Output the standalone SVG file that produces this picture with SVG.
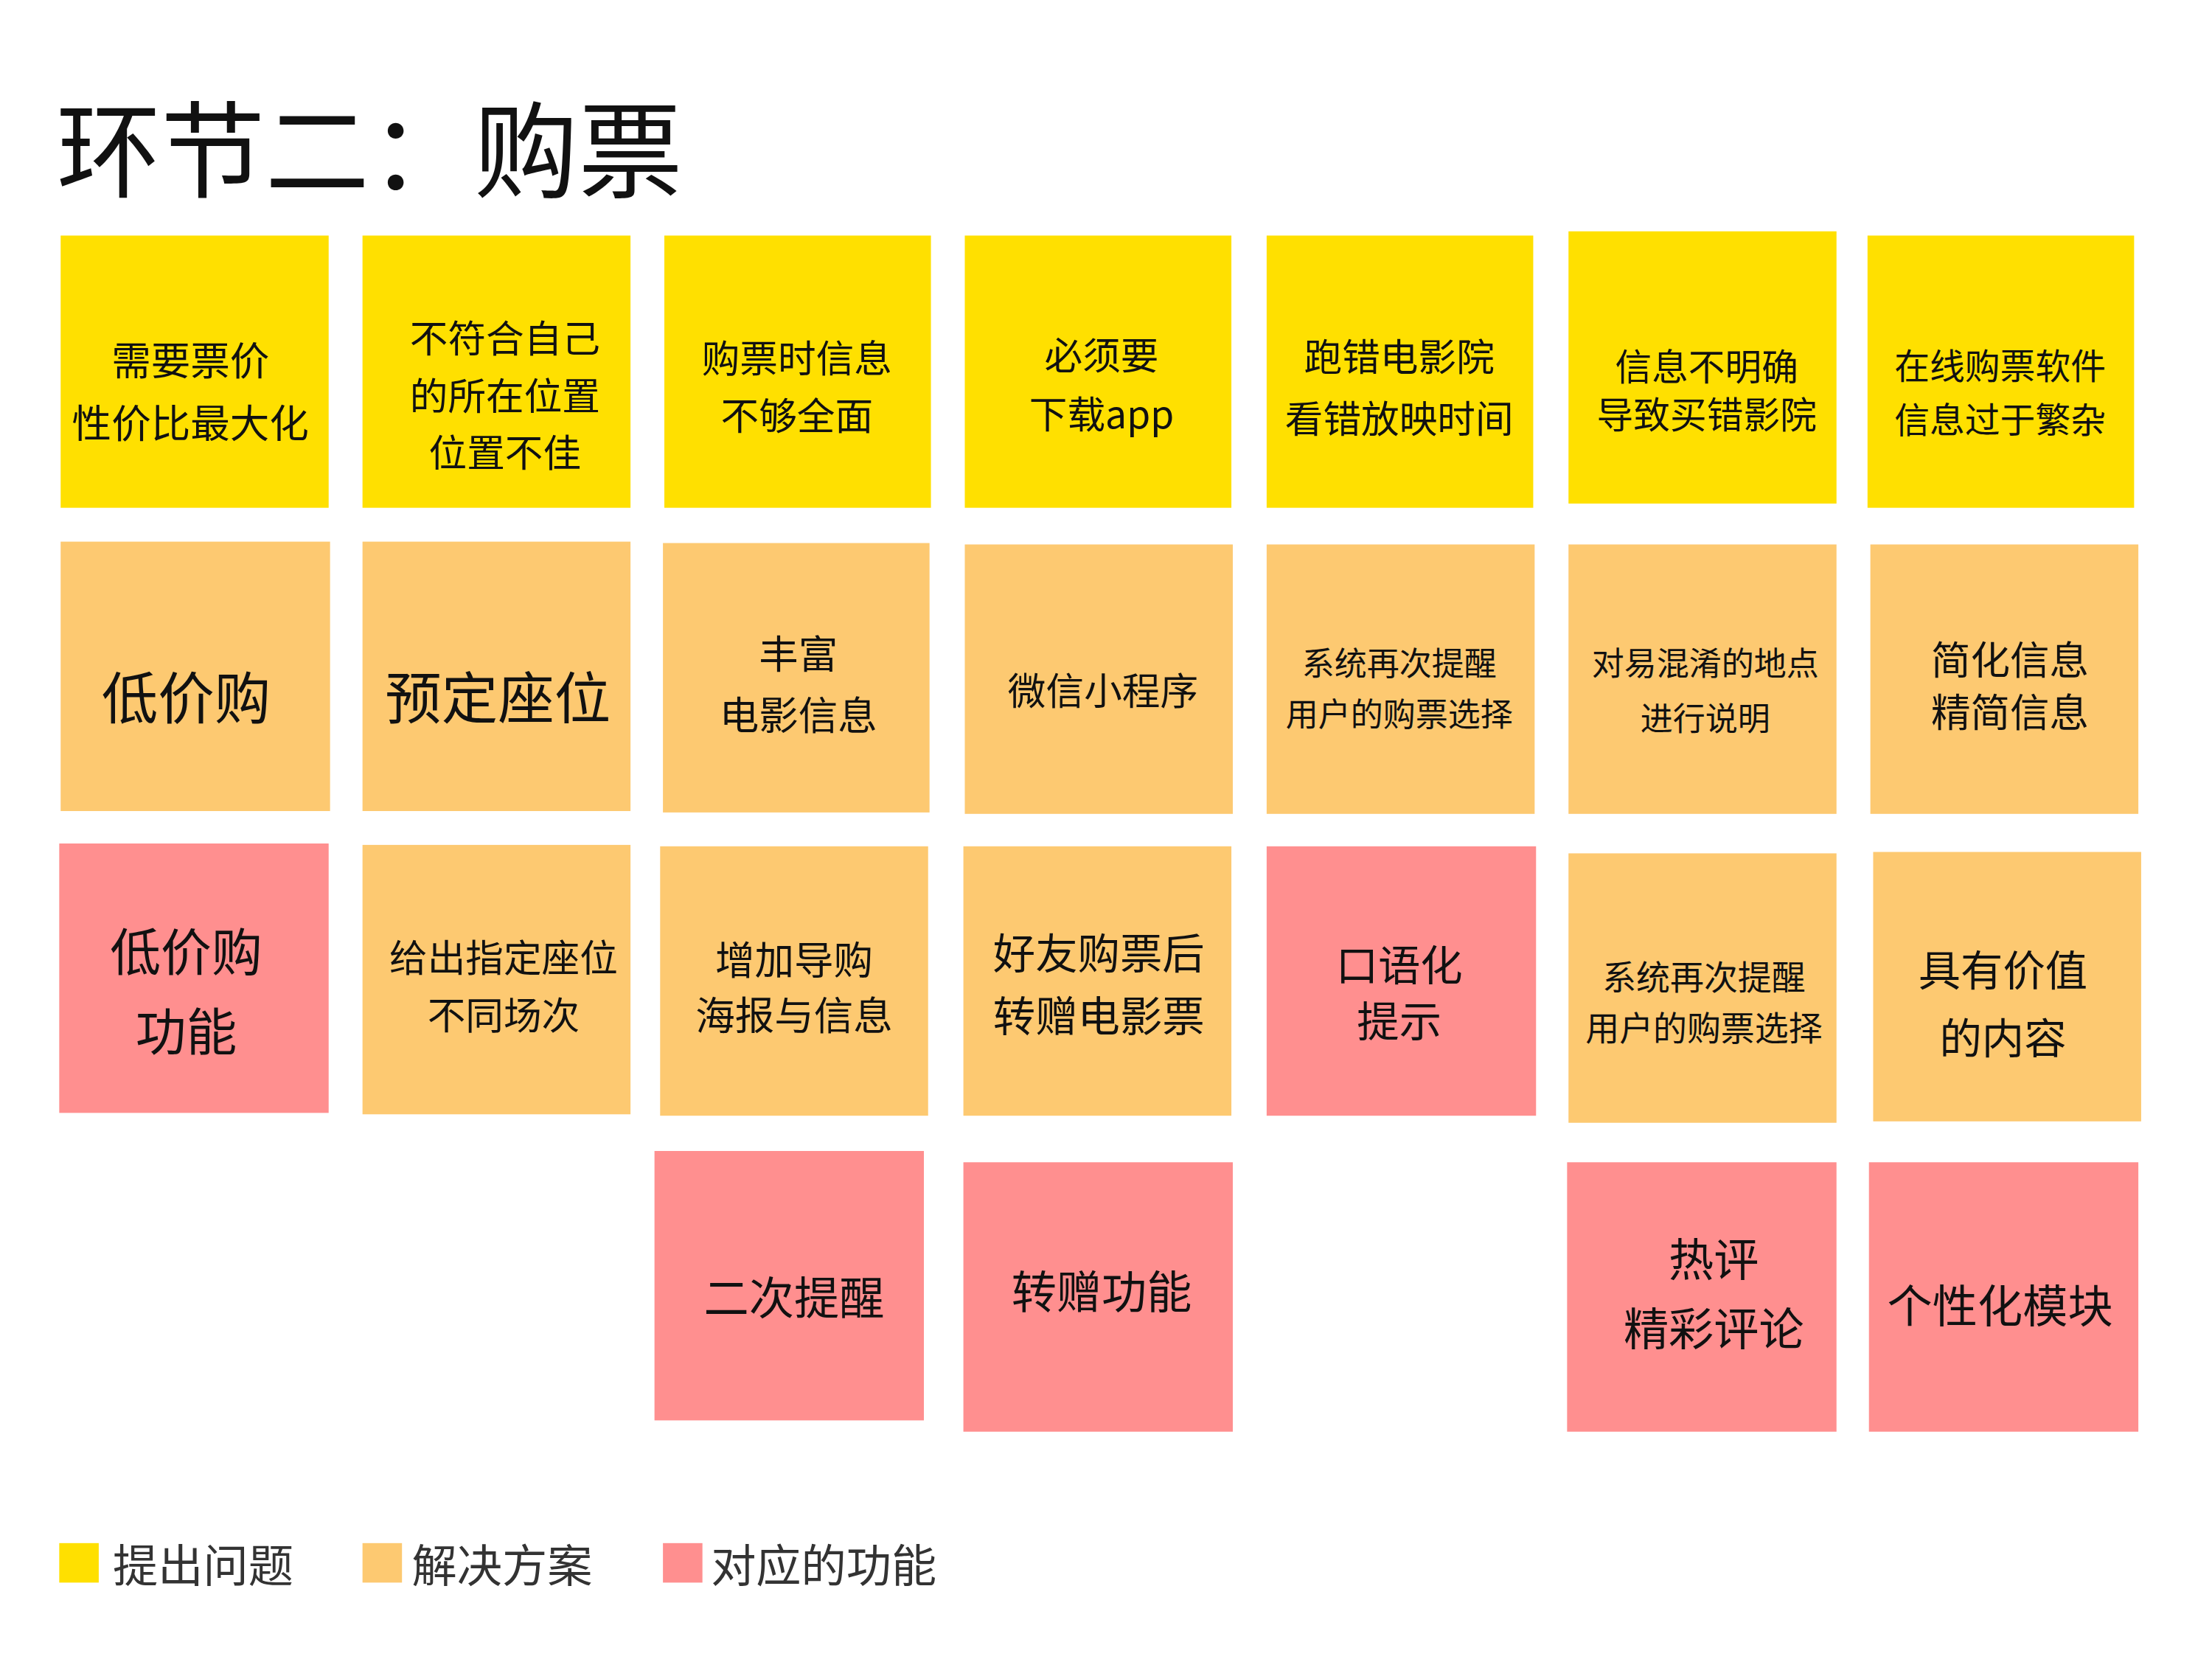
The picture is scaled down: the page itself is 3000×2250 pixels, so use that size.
<svg xmlns="http://www.w3.org/2000/svg" width="3000" height="2250" viewBox="0 0 3000 2250">
<style>
.y{fill:#FFE000}.o{fill:#FDC971}.p{fill:#FF8F8F}
text{font-family:"Noto Sans CJK SC","Noto Sans",sans-serif;fill:#111;text-anchor:middle;dominant-baseline:central}
</style>
<rect width="3000" height="2250" fill="#fff"/>
<g transform="scale(1.913)">
<text x="40" y="102" font-size="74" style="text-anchor:start">环节二：购票</text>
<g id="r1c1"><rect class="y" x="43" y="167" width="190" height="193"/><text x="135" y="254" font-size="28">需要票价</text><text x="135" y="298" font-size="28">性价比最大化</text></g>
<g id="r1c2"><rect class="y" x="257" y="167" width="190" height="193"/><text x="358" y="238" font-size="27">不符合自己</text><text x="358" y="279" font-size="27">的所在位置</text><text x="358" y="319" font-size="27">位置不佳</text></g>
<g id="r1c3"><rect class="y" x="471" y="167" width="189" height="193"/><text x="565" y="252" font-size="27">购票时信息</text><text x="565" y="293" font-size="27">不够全面</text></g>
<g id="r1c4"><rect class="y" x="684" y="167" width="189" height="193"/><text x="781" y="250" font-size="27">必须要</text><text x="781" y="292" font-size="27">下载app</text></g>
<g id="r1c5"><rect class="y" x="898" y="167" width="189" height="193"/><text x="992" y="251" font-size="27">跑错电影院</text><text x="992" y="295" font-size="27">看错放映时间</text></g>
<g id="r1c6"><rect class="y" x="1112" y="164" width="190" height="193"/><text x="1210" y="258" font-size="26">信息不明确</text><text x="1210" y="292" font-size="26">导致买错影院</text></g>
<g id="r1c7"><rect class="y" x="1324" y="167" width="189" height="193"/><text x="1418" y="258" font-size="25">在线购票软件</text><text x="1418" y="296" font-size="25">信息过于繁杂</text></g>

<g id="r2c1"><rect class="o" x="43" y="384" width="191" height="191"/><text x="132" y="492" font-size="40">低价购</text></g>
<g id="r2c2"><rect class="o" x="257" y="384" width="190" height="191"/><text x="353" y="492" font-size="40">预定座位</text></g>
<g id="r2c3"><rect class="o" x="470" y="385" width="189" height="191"/><text x="566" y="462" font-size="28">丰富</text><text x="566" y="505" font-size="28">电影信息</text></g>
<g id="r2c4"><rect class="o" x="684" y="386" width="190" height="191"/><text x="782" y="488" font-size="27">微信小程序</text></g>
<g id="r2c5"><rect class="o" x="898" y="386" width="190" height="191"/><text x="992" y="469" font-size="23">系统再次提醒</text><text x="992" y="505" font-size="23">用户的购票选择</text></g>
<g id="r2c6"><rect class="o" x="1112" y="386" width="190" height="191"/><text x="1209" y="469" font-size="23">对易混淆的地点</text><text x="1209" y="508" font-size="23">进行说明</text></g>
<g id="r2c7"><rect class="o" x="1326" y="386" width="190" height="191"/><text x="1425" y="466" font-size="28">简化信息</text><text x="1425" y="503" font-size="28">精简信息</text></g>

<g id="r3c1"><rect class="p" x="42" y="598" width="191" height="191"/><text x="132" y="673" font-size="36">低价购</text><text x="132" y="729" font-size="36">功能</text></g>
<g id="r3c2"><rect class="o" x="257" y="599" width="190" height="191"/><text x="357" y="677" font-size="27">给出指定座位</text><text x="357" y="718" font-size="27">不同场次</text></g>
<g id="r3c3"><rect class="o" x="468" y="600" width="190" height="191"/><text x="563" y="679" font-size="28">增加导购</text><text x="563" y="718" font-size="28">海报与信息</text></g>
<g id="r3c4"><rect class="o" x="683" y="600" width="190" height="191"/><text x="779" y="674" font-size="30">好友购票后</text><text x="779" y="718" font-size="30">转赠电影票</text></g>
<g id="r3c5"><rect class="p" x="898" y="600" width="191" height="191"/><text x="992" y="682" font-size="30">口语化</text><text x="992" y="722" font-size="30">提示</text></g>
<g id="r3c6"><rect class="o" x="1112" y="605" width="190" height="191"/><text x="1208" y="691" font-size="24">系统再次提醒</text><text x="1208" y="727" font-size="24">用户的购票选择</text></g>
<g id="r3c7"><rect class="o" x="1328" y="604" width="190" height="191"/><text x="1420" y="686" font-size="30">具有价值</text><text x="1420" y="734" font-size="30">的内容</text></g>

<g id="r4c3"><rect class="p" x="464" y="816" width="191" height="191"/><text x="563" y="918" font-size="32">二次提醒</text></g>
<g id="r4c4"><rect class="p" x="683" y="824" width="191" height="191"/><text x="781" y="914" font-size="32">转赠功能</text></g>
<g id="r4c6"><rect class="p" x="1111" y="824" width="191" height="191"/><text x="1215" y="891" font-size="32">热评</text><text x="1215" y="940" font-size="32">精彩评论</text></g>
<g id="r4c7"><rect class="p" x="1325" y="824" width="191" height="191"/><text x="1418" y="924" font-size="32">个性化模块</text></g>

<g id="legend">
<rect class="y" x="42" y="1094" width="28" height="28"/><text x="80" y="1108" font-size="32" style="text-anchor:start;fill:#333">提出问题</text>
<rect class="o" x="257" y="1094" width="28" height="28"/><text x="292" y="1108" font-size="32" style="text-anchor:start;fill:#333">解决方案</text>
<rect class="p" x="470" y="1094" width="28" height="28"/><text x="504" y="1108" font-size="32" style="text-anchor:start;fill:#333">对应的功能</text>
</g>
</g>
</svg>
